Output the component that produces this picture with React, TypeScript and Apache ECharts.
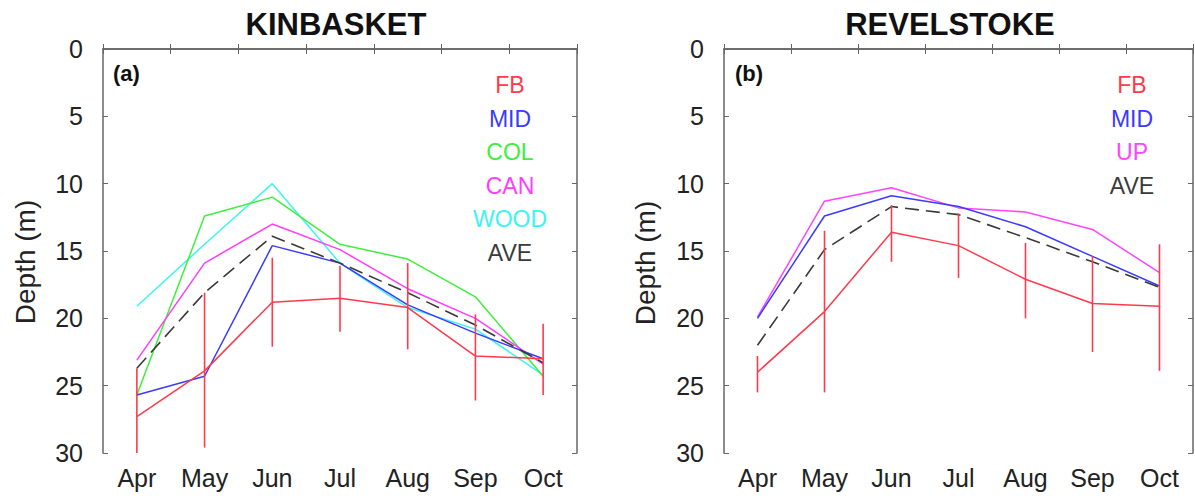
import React, { useEffect, useRef } from "react";
import * as echarts from "echarts";

const months = ["Apr", "May", "Jun", "Jul", "Aug", "Sep", "Oct"];
const depthTicks = [0, 30, 5];

// KINBASKET (a)
const kFB = [27.3, 23.9, 18.8, 18.5, 19.2, 22.8, 23.0];
const kFBLow = [23.7, 18.1, 15.5, 16.1, 15.9, 19.7, 20.4];
const kFBHigh = [31.0, 29.6, 22.1, 21.0, 22.3, 26.1, 25.7];
const kMID = [25.7, 24.3, 14.6, 15.9, 19.0, 21.1, 23.0];
const kCOL = [25.7, 12.4, 11.0, 14.5, 15.6, 18.4, 24.3];
const kCAN = [23.1, 15.9, 13.0, 14.9, 17.8, 20.0, 23.4];
const kWOOD = [19.1, 14.5, 10.0, 15.9, 19.2, 20.8, 24.2];
const kAVE = [23.7, 18.1, 13.9, 15.9, 18.1, 20.5, 23.3];

// REVELSTOKE (b)
const rFB = [24.0, 19.5, 13.6, 14.6, 17.1, 18.9, 19.1];
const rFBLow = [22.8, 13.5, 11.6, 12.2, 14.4, 15.4, 14.5];
const rFBHigh = [25.5, 25.5, 15.8, 17.0, 20.0, 22.5, 23.9];
const rMID = [20.0, 12.4, 10.9, 11.7, 13.2, 15.4, 17.6];
const rUP = [19.9, 11.3, 10.3, 11.8, 12.1, 13.4, 16.6];
const rAVE = [22.0, 14.9, 11.7, 12.3, 14.0, 15.8, 17.7];

const kLegend = ["FB", "MID", "COL", "CAN", "WOOD", "AVE"];
const rLegend = ["FB", "MID", "UP", "AVE"];

const C = {
  FB: "#ff3a4c",
  MID: "#3a3aff",
  COL: "#3ef03e",
  CAN: "#ff3cff",
  WOOD: "#3cf4f4",
  UP: "#ff44ff",
  AVE: "#3a3a3a",
};

const FONT = "'Liberation Sans', Arial, sans-serif";
const AXIS_COLOR = "#666";

export default function App() {
  const ref = useRef<HTMLDivElement>(null);
  useEffect(() => {
    if (!ref.current) return;
    const chart = echarts.init(ref.current, null, { renderer: "svg" });

    const grids = [
      { left: 103, top: 49, width: 474, height: 404 },
      { left: 724, top: 49, width: 469, height: 404 },
    ];

    const xAxes: any[] = [];
    const yAxes: any[] = [];
    [0, 1].forEach((g) => {
      xAxes.push({
        type: "category",
        gridIndex: g,
        data: months,
        boundaryGap: true,
        position: "bottom",
        axisLine: { show: true, lineStyle: { color: AXIS_COLOR, width: 1.5 } },
        axisTick: { show: true, inside: true, length: 5, lineStyle: { color: AXIS_COLOR } },
        axisLabel: { color: "#222", fontSize: 25, fontFamily: FONT, margin: 12 },
        splitLine: { show: false },
      });
      xAxes.push({
        type: "category",
        gridIndex: g,
        data: months,
        boundaryGap: true,
        position: "top",
        axisLine: { show: true, lineStyle: { color: AXIS_COLOR, width: 1.5 } },
        axisTick: { show: true, inside: true, length: 5, lineStyle: { color: AXIS_COLOR } },
        axisLabel: { show: false },
        splitLine: { show: false },
      });
      yAxes.push({
        type: "value",
        gridIndex: g,
        inverse: true,
        min: depthTicks[0],
        max: depthTicks[1],
        interval: depthTicks[2],
        position: "left",
        axisLine: { show: true, lineStyle: { color: AXIS_COLOR, width: 1.5 } },
        axisTick: { show: true, inside: true, length: 5, lineStyle: { color: AXIS_COLOR } },
        axisLabel: { color: "#222", fontSize: 25, fontFamily: FONT, margin: 20 },
        splitLine: { show: false },
      });
      yAxes.push({
        type: "value",
        gridIndex: g,
        inverse: true,
        min: depthTicks[0],
        max: depthTicks[1],
        interval: depthTicks[2],
        position: "right",
        axisLine: { show: true, lineStyle: { color: AXIS_COLOR, width: 1.5 } },
        axisTick: { show: true, inside: true, length: 5, lineStyle: { color: AXIS_COLOR } },
        axisLabel: { show: false },
        splitLine: { show: false },
      });
    });

    const line = (g: number, data: number[], color: string, dashed = false) => ({
      type: "line",
      xAxisIndex: g * 2,
      yAxisIndex: g * 2,
      data,
      symbol: "none",
      lineStyle: { color, width: dashed ? 1.6 : 1.5, type: dashed ? [14, 7] : "solid" },
      z: dashed ? 4 : 3,
    });

    const bars = (g: number, low: number[], high: number[]) => ({
      type: "custom",
      xAxisIndex: g * 2,
      yAxisIndex: g * 2,
      clip: true,
      data: months.map((_, i) => [i, low[i], high[i]]),
      encode: { x: 0, y: [1, 2] },
      renderItem: (params: any, api: any) => {
        const i = api.value(0);
        const a = api.coord([i, api.value(1)]);
        const b = api.coord([i, api.value(2)]);
        return {
          type: "line",
          shape: { x1: a[0], y1: a[1], x2: b[0], y2: b[1] },
          style: { stroke: C.FB, lineWidth: 1.6 },
        };
      },
      z: 5,
    });

    const legendTexts: any[] = [];
    kLegend.forEach((name, i) => {
      legendTexts.push({
        type: "text",
        x: 510,
        y: 85 + i * 33.6,
        style: {
          text: name,
          fill: (C as any)[name],
          font: `23px ${FONT}`,
          textAlign: "center",
          textVerticalAlign: "middle",
        },
      });
    });
    rLegend.forEach((name, i) => {
      legendTexts.push({
        type: "text",
        x: 1132,
        y: 85 + i * 33.6,
        style: {
          text: name,
          fill: (C as any)[name],
          font: `23px ${FONT}`,
          textAlign: "center",
          textVerticalAlign: "middle",
        },
      });
    });

    chart.setOption({
      animation: false,
      backgroundColor: "#fff",
      title: [
        {
          text: "KINBASKET",
          left: 331,
          top: 4,
          textAlign: "center",
          textStyle: { fontSize: 31, fontWeight: "bold", fontFamily: FONT, color: "#111" },
        },
        {
          text: "REVELSTOKE",
          left: 945,
          top: 4,
          textAlign: "center",
          textStyle: { fontSize: 31, fontWeight: "bold", fontFamily: FONT, color: "#111" },
        },
      ],
      grid: grids,
      xAxis: xAxes,
      yAxis: yAxes,
      series: [
        line(0, kWOOD, C.WOOD),
        line(0, kCOL, C.COL),
        line(0, kCAN, C.CAN),
        line(0, kMID, C.MID),
        line(0, kFB, C.FB),
        line(0, kAVE, C.AVE, true),
        bars(0, kFBLow, kFBHigh),
        line(1, rUP, C.UP),
        line(1, rMID, C.MID),
        line(1, rFB, C.FB),
        line(1, rAVE, C.AVE, true),
        bars(1, rFBLow, rFBHigh),
      ],
      graphic: [
        {
          type: "text",
          x: 25,
          y: 262,
          rotation: Math.PI / 2,
          style: {
            text: "Depth (m)",
            fill: "#222",
            font: `28px ${FONT}`,
            textAlign: "center",
            textVerticalAlign: "middle",
          },
        },
        {
          type: "text",
          x: 645,
          y: 263,
          rotation: Math.PI / 2,
          style: {
            text: "Depth (m)",
            fill: "#222",
            font: `28px ${FONT}`,
            textAlign: "center",
            textVerticalAlign: "middle",
          },
        },
        {
          type: "text",
          x: 113,
          y: 73,
          style: { text: "(a)", fill: "#111", font: `bold 22px ${FONT}`, textVerticalAlign: "middle" },
        },
        {
          type: "text",
          x: 735,
          y: 73,
          style: { text: "(b)", fill: "#111", font: `bold 22px ${FONT}`, textVerticalAlign: "middle" },
        },
        ...legendTexts,
      ],
    });
    return () => chart.dispose();
  }, []);
  return (
    <div
      ref={ref}
      style={{ position: "absolute", left: 0, top: 0, width: 1195, height: 496 }}
    />
  );
}
